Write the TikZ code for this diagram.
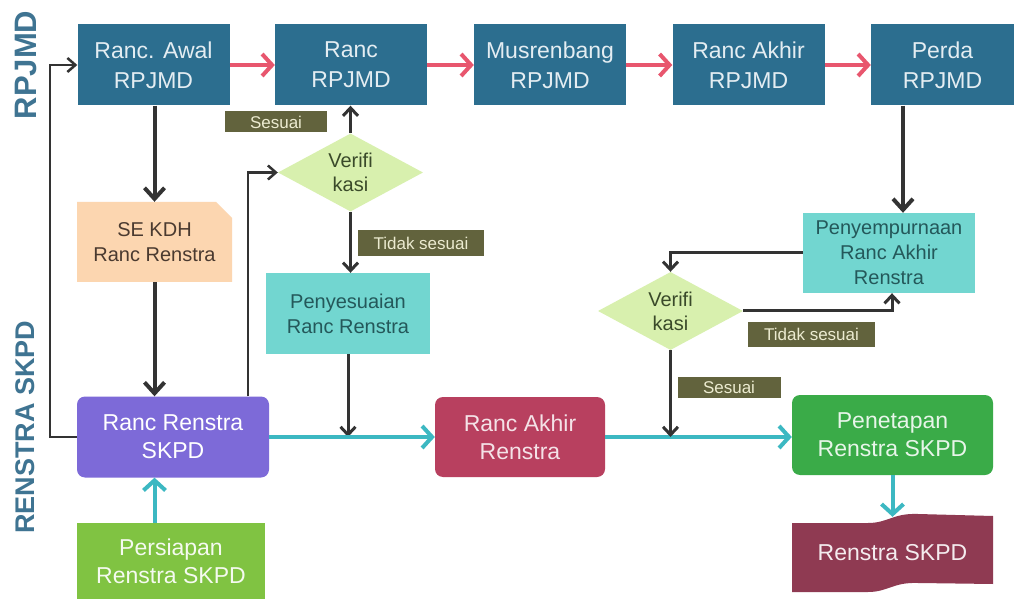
\documentclass[tikz,border=0pt]{standalone}
\usepackage{fontspec}
\setmainfont{Liberation Sans}
\usepackage{xcolor}
\usepackage{tikz}
\usetikzlibrary{shapes,shapes.misc}
\usetikzlibrary{arrows.meta,calc}
\definecolor{rpjmdblue}{HTML}{2C6E8F}
\definecolor{rpjmdtext}{HTML}{E4EDF2}
\definecolor{sidetext}{HTML}{3F7492}
\definecolor{arrowred}{HTML}{E8566E}
\definecolor{arrowteal}{HTML}{3CB8C2}
\definecolor{darkline}{HTML}{333333}
\definecolor{tagolive}{HTML}{62633D}
\definecolor{tagtext}{HTML}{ECEBD0}
\definecolor{verifgreen}{HTML}{D8F0AE}
\definecolor{veriftext}{HTML}{3A4A2A}
\definecolor{aqua}{HTML}{72D6D0}
\definecolor{aquatext}{HTML}{24585A}
\definecolor{peach}{HTML}{FCD6B0}
\definecolor{peachtext}{HTML}{4A3A30}
\definecolor{renpurple}{HTML}{7D6AD8}
\definecolor{renlime}{HTML}{80C342}
\definecolor{rencrimson}{HTML}{B8405F}
\definecolor{rengreen}{HTML}{3AAB48}
\definecolor{renmaroon}{HTML}{8F3A52}
\tikzset{
  plan/.style={
    inner sep = 0pt,
    shape = rectangle,
    align = center,
    minimum width = 152pt,
    minimum height = 81pt
  },
  planr/.style={
    plan,
    rounded corners = 8pt
  },
  rpjmd/.style={
    plan,
    fill = rpjmdblue,
    text = rpjmdtext,
    font = \fontsize{23}{30}\selectfont
  },
  verif/.style={
    shape = diamond,
    aspect = 1.9,
    inner sep = 0pt,
    minimum width = 145pt,
    minimum height = 78pt,
    fill = verifgreen,
    text = veriftext,
    align = center,
    font = \fontsize{20}{24}\selectfont
  },
  tag/.style={
    fill = tagolive,
    text = tagtext,
    inner sep = 0pt,
    font = \fontsize{17}{17}\selectfont
  },
  side/.style={
    rotate = 90,
    text = sidetext,
    inner sep = 0pt
  }
}
\tikzset{
  arrowR/.style={
    draw = arrowred,
    line width = 4pt,
    -{Straight Barb[length=10pt,width=22pt]}
  },
  arrowT/.style={
    draw = arrowteal,
    line width = 4pt,
    -{Straight Barb[length=10pt,width=22pt]}
  },
  arrowD/.style={
    draw = darkline,
    line width = 4pt,
    -{Straight Barb[length=11pt,width=20pt]}
  },
  arrowd/.style={
    draw = darkline,
    line width = 3pt,
    -{Straight Barb[length=8pt,width=15pt]}
  },
  arrowl/.style={
    draw = darkline,
    line width = 2.5pt,
    -{Straight Barb[length=8pt,width=14pt]}
  }
}

\begin{document}
\begin{tikzpicture}[x=1pt,y=-1pt]
        \useasboundingbox (0,0) rectangle (1014,601);
        \fill[white] (0,0) rectangle (1014,601);
        % RPJMD row
        \node[side,font=\fontsize{31}{31}\selectfont\bfseries] (lblrpjmd) at (26,65) {RPJMD};
        \node[rpjmd] (awal) at (153.5,65) {Ranc. Awal\\RPJMD};
        \node[rpjmd] (ranc) at (351,65) {Ranc\\RPJMD};
        \node[rpjmd] (musren) at (550,65) {Musrenbang\\RPJMD};
        \node[rpjmd] (akhirrp) at (748.5,65) {Ranc Akhir\\RPJMD};
        \node[rpjmd,minimum width=143pt] (perda) at (942.5,65) {Perda\\RPJMD};
        \draw[arrowR] (awal) -- (ranc);
        \draw[arrowR] (ranc) -- (musren);
        \draw[arrowR] (musren) -- (akhirrp);
        \draw[arrowR] (akhirrp) -- (perda);
        % Renstra SKPD
        \node[side,font=\fontsize{27}{27}\selectfont\bfseries] (lblrenstra) at (25,427) {RENSTRA SKPD};
        \node[plan,shape=chamfered rectangle,chamfered rectangle corners=north east,
              chamfered rectangle xsep=8pt,chamfered rectangle ysep=8pt,
              minimum width=155pt,minimum height=80pt,fill=peach,text=peachtext,
              font=\fontsize{20}{25}\selectfont] (sekdh) at (154.5,242) {SE KDH\\Ranc Renstra};
        \node[verif] (verif1) at (350.5,172.5) {Verifi\\kasi};
        \node[plan,minimum width=164pt,fill=aqua,text=aquatext,
              font=\fontsize{20}{25}\selectfont] (sesuaian) at (348,313.5) {Penyesuaian\\Ranc Renstra};
        \node[planr,minimum width=192pt,fill=renpurple,text=white,
              font=\fontsize{23}{28}\selectfont] (rencana) at (173,437) {Ranc Renstra\\SKPD};
        \node[plan,minimum width=188pt,minimum height=76pt,fill=renlime,text=white!92!renlime,
              font=\fontsize{23}{28}\selectfont] (persiapan) at (171,561) {Persiapan\\Renstra SKPD};
        \node[planr,minimum width=170pt,minimum height=80pt,fill=rencrimson,text=white!85!rencrimson,
              font=\fontsize{23}{28}\selectfont] (akhirren) at (520,437) {Ranc Akhir\\Renstra};
        \node[planr,minimum width=201pt,minimum height=80pt,fill=rengreen,text=white!88!rengreen,
              font=\fontsize{23}{28}\selectfont] (penetapan) at (892.5,435) {Penetapan\\Renstra SKPD};
        \node[plan,minimum width=172pt,minimum height=80pt,fill=aqua,text=aquatext,
              font=\fontsize{20}{25}\selectfont] (penyemp) at (889,253) {Penyempurnaan\\Ranc Akhir\\Renstra};
        \node[verif] (verif2) at (670.5,311) {Verifi\\kasi};
        %    document shape
        \fill[renmaroon] (792,523) -- (868,523) .. controls (888,523) and (893,513) .. (918,514)
              -- (993,516) -- (993,584) -- (918,583) .. controls (893,582) and (888,592) .. (868,592)
              -- (792,592) -- cycle;
        \node[plan,minimum width=201pt,minimum height=72pt,text=white!90!renmaroon,
              font=\fontsize{23}{28}\selectfont] (dokumen) at (892.5,553) {Renstra SKPD};
        % tags
        \node[tag,minimum width=102pt,minimum height=21pt] (sesuai1) at (276,122) {Sesuai};
        \node[tag,minimum width=126pt,minimum height=26pt] (tidak1) at (421,243.5) {Tidak sesuai};
        \node[tag,minimum width=127pt,minimum height=25pt] (tidak2) at (811.5,334.5) {Tidak sesuai};
        \node[tag,minimum width=103pt,minimum height=21pt] (sesuai2) at (729,387) {Sesuai};
        % connectors
        \draw[arrowD] (sekdh.south |- awal.south) -- (sekdh.north);
        \draw[arrowD] (sekdh.south) -- (sekdh.south |- rencana.north);
        \draw[arrowT] (sekdh.south |- persiapan.north) -- (sekdh.south |- rencana.south);
        \draw[arrowl] (rencana.west) -- ++(-27,0) |- (awal.west);
        \draw[arrowl] ($(rencana.north east)+(-21,0)$) |- (verif1.west);
        \draw[arrowd] (verif1.north) -- (verif1.north |- ranc.south);
        \draw[arrowd] (verif1.south) -- (verif1.south |- sesuaian.north);
        \draw[arrowd] (sesuaian.south) -- (sesuaian.south |- rencana.east);
        \draw[arrowT] (rencana.east) -- (akhirren.west);
        \draw[arrowT] (akhirren.east) -- (akhirren.east -| penetapan.west);
        \draw[arrowD] ([xshift=-39.5pt]perda.south) -- ([xshift=-39.5pt]perda.south |- penyemp.north);
        \draw[arrowd] (penyemp.west) -| (verif2.north);
        \draw[arrowd] (verif2.east) -| ([xshift=3pt]penyemp.south);
        \draw[arrowd] (verif2.south) -- (verif2.south |- akhirren.east);
        \draw[arrowT] (penetapan.south) -- (dokumen.north);
\end{tikzpicture}
\end{document}
